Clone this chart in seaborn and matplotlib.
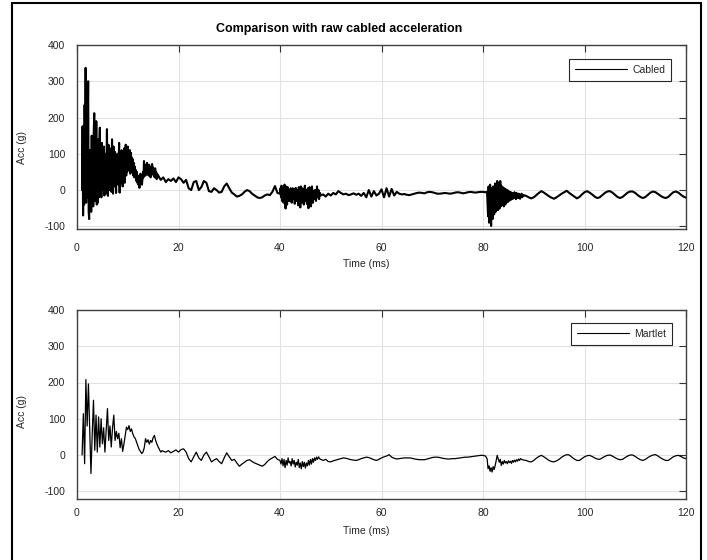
import numpy as np
import pandas as pd
import seaborn as sns
import matplotlib.pyplot as plt
from matplotlib.patches import Rectangle

# ---- values (time in ms, acceleration in g) ----
# each record: first sample time, sample step, values

# Cabled accelerometer
cabled_impact = [0, 176, -70, 120, -40, 235, 60, 337, -35, 250,
                 -20, 180, 300, -60, -80, 110, -50, 60, -60, 150,
                 -30, 100, -45, 160, 212, -30, 140, 20, 190, -40,
                 90, -35, 140, -20, 120, 172, -15, 90, -20, 130,
                 0, 110, 10, 120, -15, 80, 100, -10, 60, 168,
                 20, -16, 125, 30, 0, 115, 60, 90, -5, 140,
                 70, -10, 120, 40, 10, 105, 50, -8, 95, 30,
                 100, 15, 70, 130, -7, 90, 40, 20, 110, 60,
                 10, 80, 30, 115, 20, 90, 125, 40, 110, 50,
                 120, 55, 100, 60, 110, 45, 103, 60, 90, 50,
                 85, 40, 75, 35, 65, 45, 55, 25, 50, 20,
                 40, 15, 35, 6, 30, 45, 20, 40, 15, 30,
                 50, 35, 80, 45, 70, 40, 65, 50, 75, 45,
                 60, 40, 70, 50, 55, 35, 65, 45, 72, 50,
                 62, 40, 55, 35, 60, 45, 50, 30, 45, 35,
                 40]
cabled_decay = [28, 35, 22, 30, 25, 32, 22, 35, 30, 20, 28, 5, 0, 22, 25, 0, 8, 25, 20, -3, -5,
                5, 0, -7, -5, 10, 18, 5, -7, -12, -18, -16, -12, -5, 0, -3, -10, -15, -20, -22,
                -20, -15, -12, -14, -5, 11, -8]
cabled_burst = [-10, 5, -20, 12, -30, -5, 5, -35, 0, 15,
                -25, -51, 10, -20, -40, 8, -15, -30, 0, -10,
                -30, 5, -20, -35, 0, 5, -25, -10, 3, -38,
                -15, 6, -30, -5, 0, -25, -42, 8, -20, -10,
                -48, 10, -25, -35, 5, -15, 2, -40, -20, 12,
                -30, -10, 0, -38, -15, 5, -50, -20, 8, -28,
                -5, -45, -25, 10, -15, -35, -2, -25, -10, 0,
                -22, -30, -5, 10, -20, -15, 0, -25, -12, -8,
                -15]
cabled_mid = [-12, -18, -10, -15, -8, -12, -3, -8, -12, -10, -14, -12, -9, -13, -10, -16, -8,
              -20, 0, -18, -3, -15, -10, 2, -20, 5, -18, 3, -15, -5, -10, -12, -11, -13, -14,
              -12, -10, -8, -7, -8, -9, -6, -5, -6, -8, -10, -10, -9, -8, -9, -10, -9, -7, -6,
              -7, -9, -8, -6, -5, -6, -7, -6, -5, -5, -6]
cabled_second = [-5, -40,
                 -72, 10, -90, -30, 15, -60, -99, 5, -50, -80,
                 10, -40, -67, 0, 18, -60, -20, -55, 25, -30,
                 -55, 20, -10, -50, 25, -45, 12, -20, -40, 8,
                 -30, -45, 5, -15, -40, 2, -35, -10, 0, -33,
                 -2, -30, -15, -5, -28, -6, -25, -12, -8, -24,
                 -10, -22, -6, -20, -12, -25, -8, -18, -14, -22,
                 -10, -20, -12, -24, -14, -18, -10, -20, -15, -17,
                 -14]
cabled_tail = [-16, -20, -23, -20, -14, -8, -3, -7, -12, -17, -21, -24, -20, -15, -10, -6, -2,
               -8, -13, -18, -23, -19, -12, -6, -3, -7, -12, -18, -22, -20, -14, -8, -4, -3, -7,
               -13, -19, -22, -19, -13, -7, -4, -4, -8, -14, -19, -22, -19, -13, -7, -4, -6,
               -11, -16, -20, -22, -19, -12, -6, -4, -7, -13, -18, -21]

# Martlet (on-board recorder)
martlet_impact = [0, 114, -24, 208, 80, 196, 70, -51, 59, 151, 13, 110, 8, 105, 22, 100, 31, 75,
                  8, 70, 128, 40, 80, 22, 75, 110, 40, 65, 45, 60, 20, 45, 10, 31, 55, 77, 70,
                  81, 65, 72, 58, 50, 45, 35, 25, 15, 10, 4, 8, 20, 45, 35, 42, 30, 40, 35, 48,
                  54, 40, 30, 22, 15, 8, 12, 10]
martlet_decay = [8, 12, 6, 10, 14, 8, 15, 17, 8, -10, -19, -5, 8, -8, -15, 0, 8, -5, -19, -14,
                 -10, -18, -24, -8, 6, -5, -15, -12, -22, -31, -25, -20, -15, -13, -18, -22,
                 -25, -28, -31, -26, -18, -12, -8, -4, -12]
martlet_burst = [-15, -25, -10, -30, -12, -35, -15, -28, -8, -22, -18, -30, -10, -25, -15, -33,
                 -20, -28, -12, -35, -22, -38, -18, -32, -20, -36, -22, -30, -15, -28, -12, -25,
                 -10, -20, -8, -15, -6, -12, -5, -10, -12]
martlet_mid = [-15, -12, -18, -19, -16, -14, -12, -10, -8, -9, -11, -13, -14, -15, -13, -10, -8,
               -6, -7, -10, -13, -15, -12, -8, -5, -3, 1, -6, -9, -11, -10, -9, -8, -8, -8, -9,
               -11, -12, -13, -13, -13, -11, -9, -7, -6, -6, -7, -9, -10, -11, -11, -10, -10,
               -9, -8, -7, -6, -6, -5, -4, -3, -2, -1, -1, -3]
martlet_second = [-10, -38, -30, -45, -35, -47, -32, -40, -29, -15, -1, -10, -20, -12, -29, -18,
                  -25, -15, -22, -18, -24, -16, -21, -17, -23, -15, -20, -14, -19, -13, -17,
                  -11, -15, -10, -12, -13, -14]
martlet_tail = [-15, -18, -19, -15, -9, -4, -1, -5, -10, -15, -18, -19, -16, -12, -6, -2, 1, 0,
                -6, -11, -15, -15, -10, -5, -2, -1, -4, -8, -11, -12, -8, -4, -1, 0, -3, -7,
                -11, -13, -12, -7, -3, 0, 0, -4, -9, -13, -15, -12, -7, -3, 0, 1, -3, -8, -12,
                -15, -15, -10, -5, -2, -1, -4, -8, -10]

cabled_segments = [(1.0, 0.1, cabled_impact), (16.5, 0.5, cabled_decay), (40.0, 0.1, cabled_burst),
                   (48.5, 0.5, cabled_mid), (80.8, 0.1, cabled_second), (88.5, 0.5, cabled_tail)]
martlet_segments = [(1.0, 0.25, martlet_impact), (17.5, 0.5, martlet_decay), (40.0, 0.2, martlet_burst),
                    (48.5, 0.5, martlet_mid), (80.8, 0.2, martlet_second), (88.5, 0.5, martlet_tail)]


def build(segments):
    frames = []
    for t0, dt, vals in segments:
        t = t0 + dt * np.arange(len(vals))
        frames.append(pd.DataFrame({'time': t, 'acc': vals}))
    return pd.concat(frames, ignore_index=True)


sns.set_style('whitegrid')
plt.rcParams['font.family'] = ['Liberation Sans', 'DejaVu Sans']
plt.rcParams['axes.unicode_minus'] = False

W, H = 707, 560
fig = plt.figure(figsize=(W / 100, H / 100), dpi=100)
fig.patch.set_facecolor('white')

# outer frame (MATLAB figure border)
fig.patches.append(Rectangle((12 / W, -0.05), (701 - 12) / W, 1.05 - 2.7 / H, transform=fig.transFigure,
                             fill=False, edgecolor='black', linewidth=1.5))

panels = [
    # name, data, axes rect, ylim, line width, x tick pad, xlabel y, ylabel y, legend anchor
    ('Cabled', build(cabled_segments), [77 / W, 1 - 228.5 / H, 609 / W, 183.5 / H], -106, 1.5, 10.5, -0.166, 0.441,
     (0.9754, 0.922)),
    ('Martlet', build(martlet_segments), [77 / W, 1 - 498.5 / H, 609 / W, 188.5 / H], -120, 0.9, 6.5, -0.146, 0.464,
     (0.9765, 0.929)),
]

for name, df, rect, ylo, lw, xpad, xlab_y, ylab_y, anchor in panels:
    ax = fig.add_axes(rect)
    sns.lineplot(data=df, x='time', y='acc', ax=ax, color='black', linewidth=lw,
                 estimator=None, sort=False, label=name)
    ax.set_xlim(0, 120)
    ax.set_ylim(ylo, 400)
    ax.set_xticks(range(0, 121, 20))
    ax.set_yticks(range(-100, 401, 100))
    ax.grid(True, color='#e2e2e2', linewidth=0.8)
    ax.set_axisbelow(True)
    ax.tick_params(direction='in', length=5, width=0.8, top=True, right=True,
                   color='#333333', labelcolor='#262626', labelsize=7.5)
    ax.tick_params(axis='x', pad=xpad)
    ax.tick_params(axis='y', pad=8.5)
    for s in ax.spines.values():
        s.set_visible(True)
        s.set_color('#404040')
        s.set_linewidth(1.0)

    ax.set_xlabel('Time (ms)', fontsize=7.5, color='#262626')
    ax.xaxis.set_label_coords(0.4745, xlab_y)
    ax.set_ylabel('Acc (g)', fontsize=7.5, color='#262626', va='center')
    ax.yaxis.set_label_coords(-0.091, ylab_y)

    leg = ax.legend(loc='upper right', bbox_to_anchor=anchor, borderaxespad=0, fontsize=7.5,
                    frameon=True, fancybox=False, framealpha=1, edgecolor='#262626',
                    borderpad=0.55, handlelength=5.0, handletextpad=0.5)
    leg.get_frame().set_linewidth(0.8)
    for line in leg.get_lines():
        line.set_linewidth(0.8)

fig.text(339.5 / W, 1 - 32.3 / H, 'Comparison with raw cabled acceleration', ha='center', va='baseline',
         fontsize=9, fontweight='bold', color='black')

fig.savefig('out.png', dpi=100)
